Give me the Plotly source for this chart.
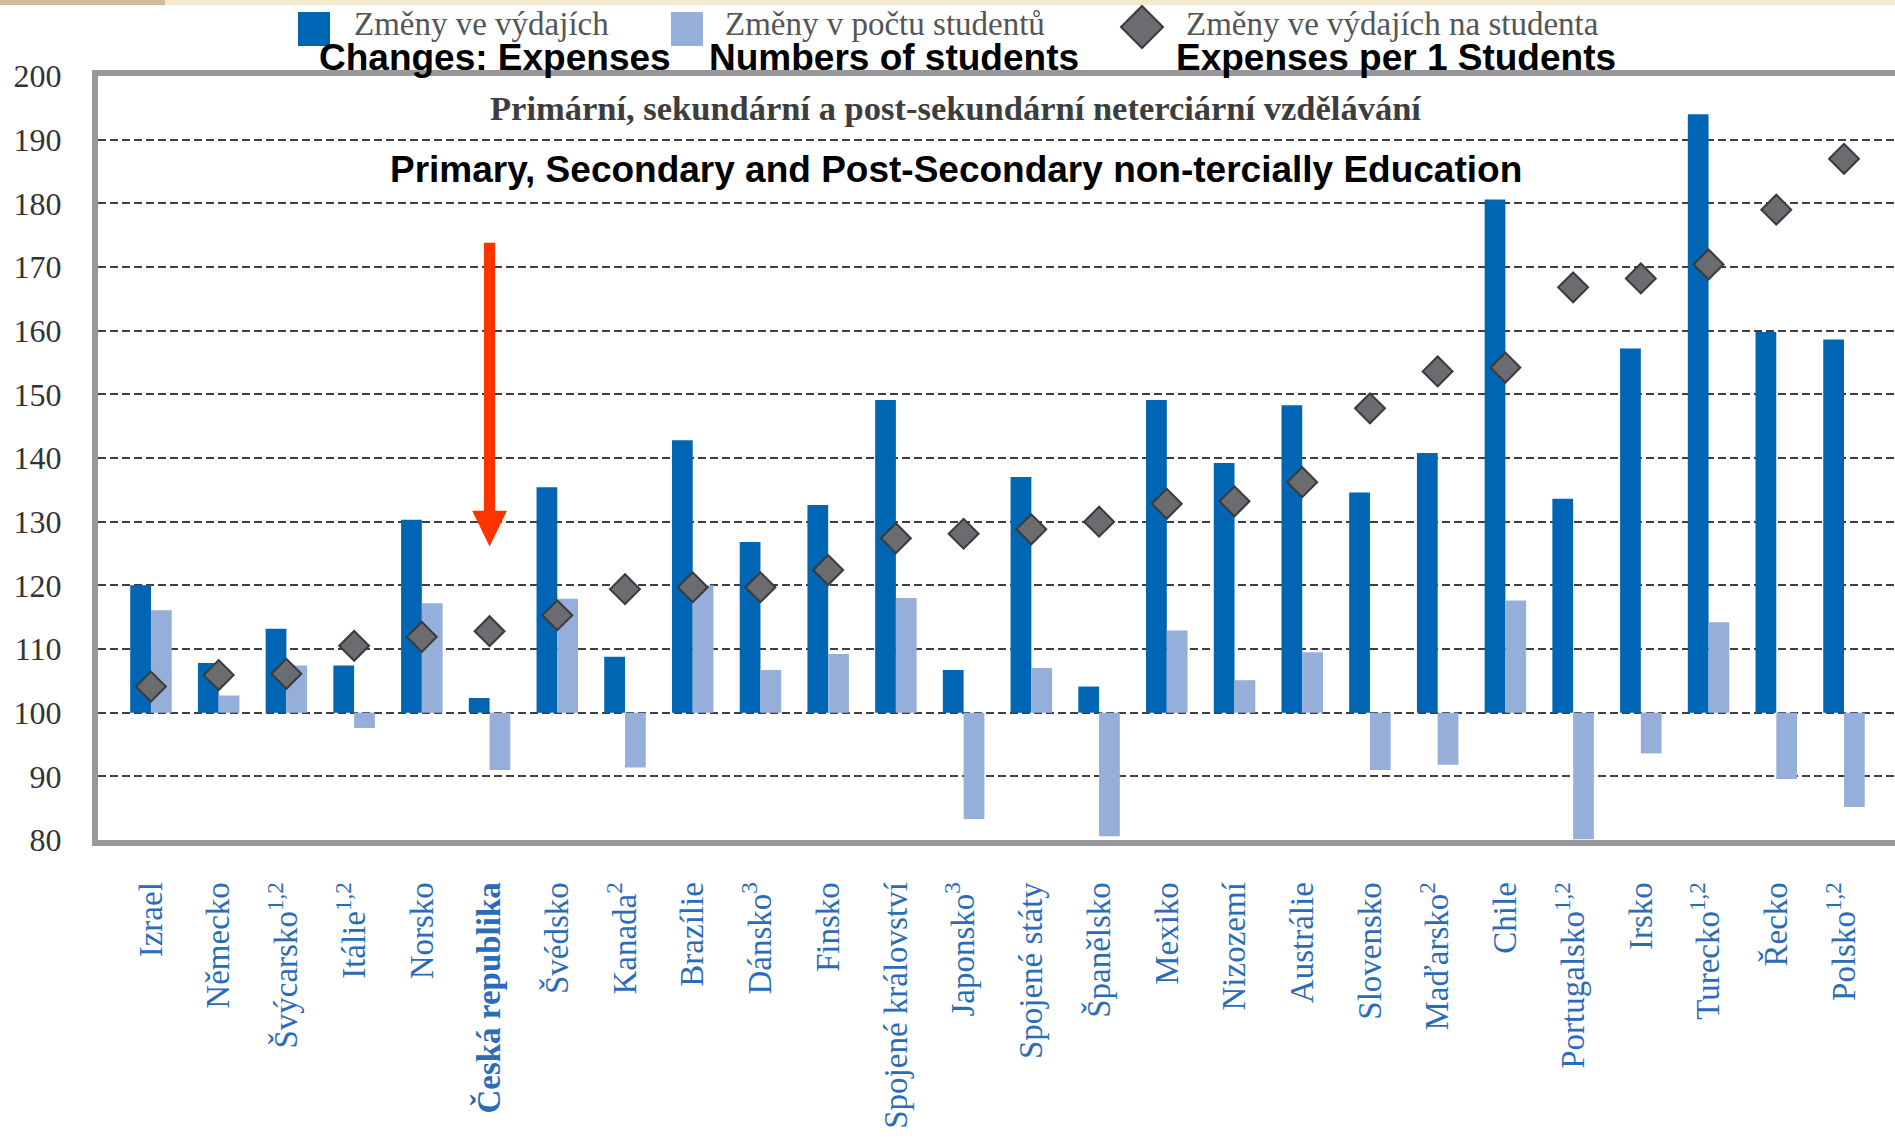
import plotly.graph_objects as go

# Countries (Czech names, footnote markers as superscripts)
countries = [
    "Izrael", "Německo", "Švýcarsko<sup>1,2</sup>", "Itálie<sup>1,2</sup>", "Norsko",
    "<b>Česká republika</b>", "Švédsko", "Kanada<sup>2</sup>", "Brazílie", "Dánsko<sup>3</sup>",
    "Finsko", "Spojené království", "Japonsko<sup>3</sup>", "Spojené státy", "Španělsko",
    "Mexiko", "Nizozemí", "Austrálie", "Slovensko", "Maďarsko<sup>2</sup>",
    "Chile", "Portugalsko<sup>1,2</sup>", "Irsko", "Turecko<sup>1,2</sup>", "Řecko",
    "Polsko<sup>1,2</sup>",
]

# Index values (base year = 100)
expenses = [
    120.0, 107.8, 113.2, 107.4, 130.3,
    102.3, 135.4, 108.8, 142.8, 126.8,
    132.6, 149.1, 106.7, 137.0, 104.1,
    149.1, 139.2, 148.3, 134.6, 140.8,
    180.6, 133.6, 157.2, 194.0, 159.8,
    158.6,
]
students = [
    116.1, 102.7, 107.4, 97.6, 117.2,
    91.0, 117.9, 91.4, 120.0, 106.7,
    109.2, 118.0, 83.3, 107.0, 80.6,
    112.9, 105.1, 109.5, 91.0, 91.8,
    117.6, 80.1, 93.6, 114.2, 89.6,
    85.2,
]
per_student = [
    104.1, 105.9, 106.1, 110.5, 111.9,
    112.8, 115.3, 119.4, 119.7, 119.7,
    122.4, 127.4, 128.1, 128.8, 130.0,
    132.8, 133.2, 136.2, 147.8, 153.6,
    154.2, 166.8, 168.2, 170.4, 179.0,
    187.0,
]
base_level = 100

legend_cz = ["Změny ve výdajích", "Změny v počtu studentů", "Změny ve výdajích na studenta"]
legend_en = ["Changes: Expenses", "Numbers of students", "Expenses per 1 Students"]
title_cz = "Primární, sekundární a post-sekundární neterciární vzdělávání"
title_en = "Primary, Secondary and Post-Secondary non-tercially Education"

BLUE = "#0066b3"
LIGHT = "#96afda"
DIAMOND = "#6b6c6f"
SERIF = "Liberation Serif"
SANS = "Liberation Sans"

W, H = 1895, 1143
ML, MT, MB = 98, 76, 303
PW, PH = W - ML, H - MT - MB


def px_x(px):
    return (px - ML) / PW


def px_y(py):
    return (H - MB - py) / PH


fig = go.Figure()
fig.add_trace(go.Bar(
    x=countries, y=[v - base_level for v in expenses], base=base_level,
    marker=dict(color=BLUE, line=dict(width=0)), name=legend_cz[0],
))
fig.add_trace(go.Bar(
    x=countries, y=[v - base_level for v in students], base=base_level,
    marker=dict(color=LIGHT, line=dict(width=0)), name=legend_cz[1],
))
fig.add_trace(go.Scatter(
    x=countries, y=per_student, mode="markers", name=legend_cz[2],
    marker=dict(symbol="diamond", size=23, color=DIAMOND,
                line=dict(color="#3a3a3a", width=2)),
))

# highlight arrow pointing at the Czech Republic
ai = 5
shaft, head = 0.083, 0.257
y_top, y_base, y_tip = 173.8, 131.7, 126.1
arrow_path = (
    f"M {ai - shaft},{y_top} L {ai + shaft},{y_top} L {ai + shaft},{y_base} "
    f"L {ai + head},{y_base} L {ai},{y_tip} L {ai - head},{y_base} "
    f"L {ai - shaft},{y_base} Z"
)

shapes = [
    # thin beige strip along the top edge
    dict(type="rect", xref="paper", yref="paper", x0=px_x(0), x1=px_x(W),
         y0=px_y(5), y1=px_y(0), fillcolor="#f6e8cd", line=dict(width=0), layer="above"),
    dict(type="rect", xref="paper", yref="paper", x0=px_x(0), x1=px_x(165),
         y0=px_y(5), y1=px_y(0), fillcolor="#cdbb9c", line=dict(width=0), layer="above"),
    dict(type="path", xref="x", yref="y", path=arrow_path,
         fillcolor="#ff3300", line=dict(width=0), layer="above"),
    # legend keys
    dict(type="rect", xref="paper", yref="paper", x0=px_x(298), x1=px_x(330),
         y0=px_y(46), y1=px_y(12), fillcolor=BLUE, line=dict(width=0)),
    dict(type="rect", xref="paper", yref="paper", x0=px_x(671), x1=px_x(703),
         y0=px_y(46), y1=px_y(12), fillcolor=LIGHT, line=dict(width=0)),
    dict(type="path", xref="paper", yref="paper",
         path=(f"M {px_x(1142)},{px_y(6)} L {px_x(1163)},{px_y(27)} "
               f"L {px_x(1142)},{px_y(48)} L {px_x(1121)},{px_y(27)} Z"),
         fillcolor=DIAMOND, line=dict(color="#3a3a3a", width=2)),
]

annotations = []
for txt, xpx in zip(legend_cz, [352, 723, 1184]):
    annotations.append(dict(
        text=txt, x=px_x(xpx), y=px_y(24), xref="paper", yref="paper",
        xanchor="left", yanchor="middle", showarrow=False,
        font=dict(family=SERIF, size=33, color="#555555"),
    ))
for txt, xpx in zip(legend_en, [317, 707, 1174]):
    annotations.append(dict(
        text=f"<b>{txt}</b>", x=px_x(xpx), y=px_y(57), xref="paper", yref="paper",
        xanchor="left", yanchor="middle", showarrow=False,
        font=dict(family=SANS, size=37, color="#000000"),
    ))
annotations.append(dict(
    text=f"<b>{title_cz}</b>", x=px_x(955), y=px_y(108), xref="paper", yref="paper",
    xanchor="center", yanchor="middle", showarrow=False,
    font=dict(family=SERIF, size=34.5, color="#3d3d3d"),
))
annotations.append(dict(
    text=f"<b>{title_en}</b>", x=px_x(956), y=px_y(169), xref="paper", yref="paper",
    xanchor="center", yanchor="middle", showarrow=False,
    font=dict(family=SANS, size=37, color="#000000"),
))

fig.update_layout(
    width=W, height=H,
    margin=dict(l=ML, r=0, t=MT, b=MB, pad=0),
    paper_bgcolor="white", plot_bgcolor="white",
    barmode="group", bargap=0.387, bargroupgap=0,
    showlegend=False,
    shapes=shapes, annotations=annotations,
    xaxis=dict(
        type="category", range=[-0.782, 25.753],
        showgrid=False, zeroline=False,
        showline=True, mirror=True, linecolor="#98989c", linewidth=6,
        ticks="", tickangle=-90, ticklabelstandoff=23,
        tickfont=dict(family=SERIF, size=33, color="#2b6cb8"),
    ),
    yaxis=dict(
        range=[80, 200], dtick=10, tick0=80,
        showgrid=True, gridcolor="#3f3f3f", gridwidth=2, griddash="8px,4px",
        zeroline=False,
        showline=True, linecolor="#98989c", linewidth=6,
        ticks="", ticklabelstandoff=24,
        tickfont=dict(family=SERIF, size=32, color="#333333"),
    ),
)

fig.write_html("out.html")
